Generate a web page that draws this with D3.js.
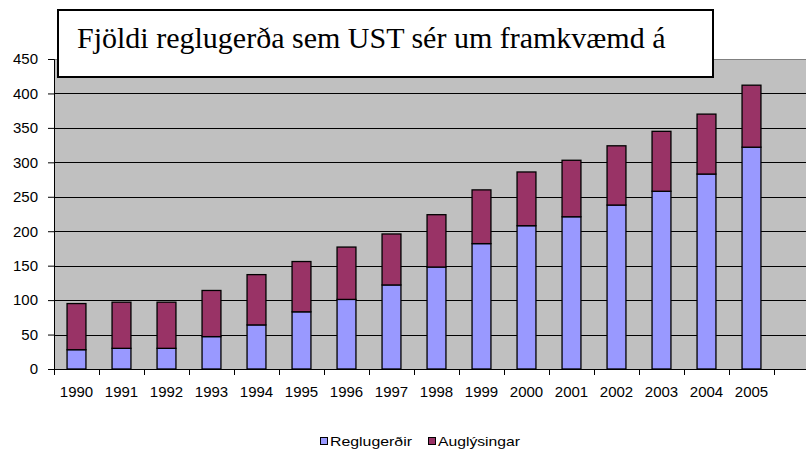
<!DOCTYPE html>
<html lang="is">
<head>
<meta charset="UTF-8">
<title>Fjöldi reglugerða</title>
<script src="https://d3js.org/d3.v7.min.js"></script>
<style>
    body { margin: 0; background: #fff; }
    svg { display: block; }
</style>
</head>
<body>
<div id="chart"></div>
<script>
    const years = ["1990","1991","1992","1993","1994","1995","1996","1997",
                   "1998","1999","2000","2001","2002","2003","2004","2005"];
    const reglugerdir = [28, 30, 30, 47, 64, 83, 101, 122, 148, 182, 208, 221, 238, 258, 283, 322];
    const auglysingar = [67, 67, 67, 67, 73, 73, 76, 74, 76, 78, 78, 82, 86, 87, 87, 90];
    const yTicks = [0, 50, 100, 150, 200, 250, 300, 350, 400, 450];
    const seriesNames = ["Reglugerðir", "Auglýsingar"];
    const colors = ["#9999FF", "#993366"];
    const titleText = "Fjöldi reglugerða sem UST sér um framkvæmd á";

    const W = 806, H = 451;
    const plotLeft = 54, plotRight = 806, plotTop = 59, plotBottom = 369;
    const catRight = 774;
    const sans = "Liberation Sans, Arial, sans-serif";

    const svg = d3.select("#chart").append("svg")
        .attr("width", W).attr("height", H);

    const x = d3.scaleBand().domain(years).range([plotLeft, catRight]).paddingInner(0).paddingOuter(0);
    const y = d3.scaleLinear().domain([0, 450]).range([plotBottom, plotTop]);

    // plot background
    svg.append("rect")
        .attr("x", plotLeft).attr("y", plotTop)
        .attr("width", plotRight - plotLeft).attr("height", plotBottom - plotTop)
        .attr("fill", "#C0C0C0");
    svg.append("line")
        .attr("x1", plotLeft).attr("x2", plotRight)
        .attr("y1", plotTop + 0.5).attr("y2", plotTop + 0.5)
        .attr("stroke", "#808080");

    // gridlines
    svg.append("g")
        .selectAll("line")
        .data(yTicks.filter(d => d > 0 && d < 450))
        .enter().append("line")
        .attr("x1", plotLeft).attr("x2", plotRight)
        .attr("y1", d => Math.round(y(d)) + 0.5)
        .attr("y2", d => Math.round(y(d)) + 0.5)
        .attr("stroke", "#000");

    // stacked bars
    const rows = years.map((yr, i) => ({ year: yr, "Reglugerðir": reglugerdir[i], "Auglýsingar": auglysingar[i] }));
    const stack = d3.stack().keys(seriesNames)(rows);
    const barW = x.bandwidth() * 0.42;

    svg.append("g")
        .selectAll("g")
        .data(stack)
        .enter().append("g")
        .attr("fill", (d, i) => colors[i])
        .selectAll("rect")
        .data(d => d)
        .enter().append("rect")
        .attr("x", d => x(d.data.year) + (x.bandwidth() - barW) / 2)
        .attr("y", d => y(d[1]))
        .attr("width", barW)
        .attr("height", d => y(d[0]) - y(d[1]))
        .attr("stroke", "#000")
        .attr("stroke-width", 1.3);

    // y axis
    const yAxis = svg.append("g")
        .attr("transform", `translate(${plotLeft},0)`)
        .call(d3.axisLeft(y).tickValues(yTicks).tickSize(6).tickPadding(10));
    yAxis.select(".domain").attr("stroke", "#000");
    yAxis.selectAll("text")
        .attr("font-family", sans)
        .attr("font-size", 15)
        .attr("fill", "#000");

    // x axis
    const xAxis = svg.append("g")
        .attr("transform", `translate(0,${plotBottom})`)
        .call(d3.axisBottom(x).tickSize(0).tickPadding(17));
    xAxis.select(".domain").remove();
    xAxis.append("line")
        .attr("x1", plotLeft).attr("x2", plotRight)
        .attr("y1", 0.5).attr("y2", 0.5)
        .attr("stroke", "#000");
    xAxis.selectAll(".tick-mark")
        .data(years.concat(["end"]))
        .enter().append("line")
        .attr("class", "tick-mark")
        .attr("x1", (d, i) => Math.round(plotLeft + i * x.step()) + 0.5)
        .attr("x2", (d, i) => Math.round(plotLeft + i * x.step()) + 0.5)
        .attr("y1", 0).attr("y2", 6)
        .attr("stroke", "#000");
    xAxis.selectAll("text")
        .attr("font-family", sans)
        .attr("font-size", 15)
        .attr("fill", "#000");

    // title box
    svg.append("rect")
        .attr("x", 58).attr("y", 10)
        .attr("width", 655).attr("height", 67)
        .attr("fill", "#fff")
        .attr("stroke", "#000")
        .attr("stroke-width", 2);
    svg.append("text")
        .attr("x", 77).attr("y", 48)
        .attr("font-family", "Liberation Serif, Times New Roman, serif")
        .attr("font-size", 30)
        .attr("fill", "#000")
        .text(titleText);

    // legend
    const legend = svg.append("g").attr("transform", "translate(320,446)");
    const legX = [0, 108];
    seriesNames.forEach((name, i) => {
        legend.append("rect")
            .attr("x", legX[i] + 0.5).attr("y", -8.5)
            .attr("width", 7).attr("height", 7)
            .attr("fill", colors[i])
            .attr("stroke", "#000");
        legend.append("text")
            .attr("x", legX[i] + 10)
            .attr("y", 0)
            .attr("font-family", sans)
            .attr("font-size", 13.5)
            .attr("textLength", 82)
            .attr("lengthAdjust", "spacingAndGlyphs")
            .attr("fill", "#000")
            .text(name);
    });
</script>
</body>
</html>
